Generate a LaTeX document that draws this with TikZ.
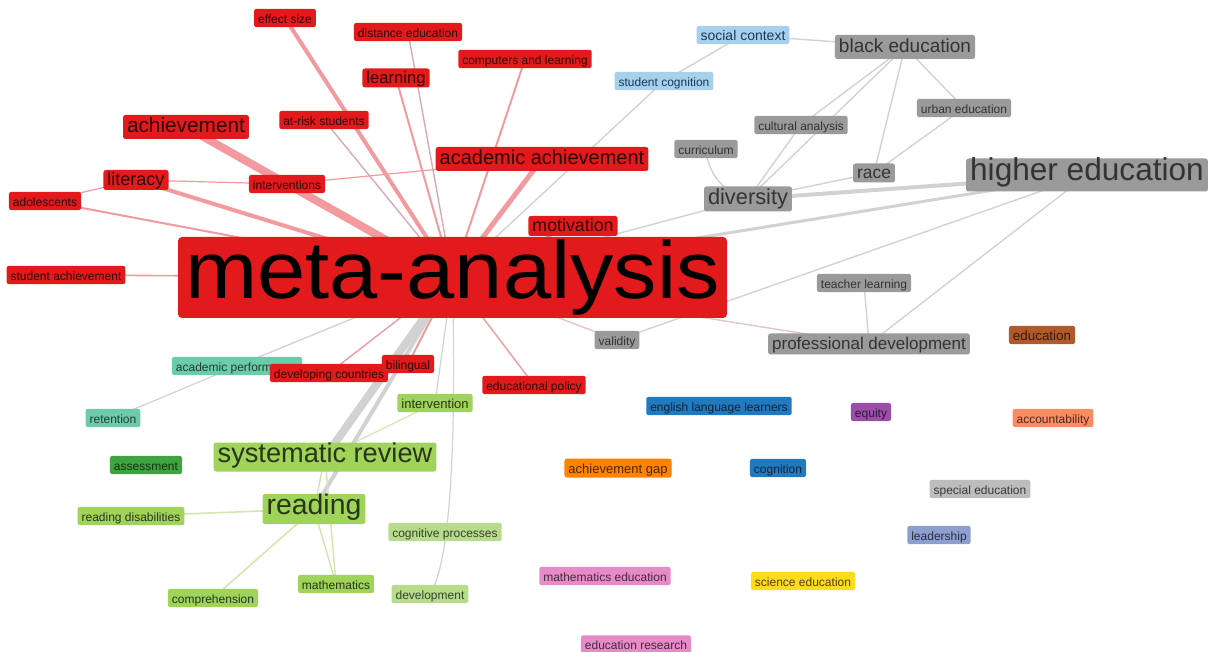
\documentclass[tikz,border=0pt]{standalone}
\usepackage{fontspec}
\setmainfont{Liberation Sans}
\usetikzlibrary{backgrounds}
\definecolor{cRed}{HTML}{E31A1C}
\definecolor{cGreen}{HTML}{9FD35A}
\definecolor{cLGreen}{HTML}{B6DC8C}
\definecolor{cDGreen}{HTML}{3FA33F}
\definecolor{cGray}{HTML}{9A9A9A}
\definecolor{cLGray}{HTML}{BDBDBD}
\definecolor{cLBlue}{HTML}{A9D0EA}
\definecolor{cBlue}{HTML}{2179BE}
\definecolor{cTeal}{HTML}{6CCBA8}
\definecolor{cOrange}{HTML}{FF8200}
\definecolor{cBrown}{HTML}{B0592A}
\definecolor{cSalmon}{HTML}{FB8B62}
\definecolor{cPurple}{HTML}{9A4EAA}
\definecolor{cPeri}{HTML}{8D9FD0}
\definecolor{cYellow}{HTML}{FFDB20}
\definecolor{cPink}{HTML}{E78BC8}
\definecolor{eRed}{HTML}{F29A9E}
\definecolor{eMauve}{HTML}{D9A9B4}
\definecolor{eGray}{HTML}{D2D2D2}
\definecolor{ePink}{HTML}{DFC6CE}
\definecolor{eGreen}{HTML}{D2E6B0}
\tikzset{
  kw/.style={rounded corners=1.2pt, inner xsep=2pt, inner ysep=0pt, minimum height=8pt,
    text height=0.72em, text depth=0.2em, font=\fontsize{6}{7}\selectfont},
  fs/.style={font=\fontsize{#1}{#1}\selectfont},
  ht/.style={minimum height=#1},
  kc/.style={kw, fill=#1, text=#1!30!black},
  rn/.style={kw, fill=cRed, text=cRed!20!black},
  gn/.style={kw, fill=cGreen, text=cGreen!25!black},
  lgn/.style={kw, fill=cLGreen, text=cLGreen!30!black},
  gyn/.style={kw, fill=cGray, text=black!80},
  lbn/.style={kw, fill=cLBlue, text=cBlue!50!black},
  tn/.style={kw, fill=cTeal, text=cTeal!30!black},
  metabox/.style={fill=cRed, text=black, rounded corners=2pt, inner sep=0pt,
    minimum width=274.5pt, minimum height=40.5pt, font=\fontsize{40.5}{40.5}\selectfont},
  redge/.style={draw=eRed, line width=#1},
  medge/.style={draw=eMauve, line width=#1},
  gedge/.style={draw=eGray, line width=#1},
  pedge/.style={draw=ePink, line width=#1},
  grnedge/.style={draw=eGreen, line width=#1},
}
\begin{document}
\begin{tikzpicture}[x=0.5pt,y=-0.5pt]
\useasboundingbox (0,0) rectangle (1211,652);
% red cluster
\node[rn] (effect) at (285,18) {effect size};
\node[rn] (distance) at (408,32) {distance education};
\node[rn] (computers) at (525,59) {computers and learning};
\node[rn, fs=8.3, ht=9.5pt] (learning) at (396,78) {learning};
\node[rn] (atrisk) at (324,120) {at-risk students};
\node[rn, fs=10.4, ht=12pt] (achievement) at (186,127) {achievement};
\node[rn, fs=10, ht=12pt] (acadach) at (542,159) {academic achievement};
\node[rn, fs=9, ht=10pt] (literacy) at (136,180) {literacy};
\node[rn] (interventions) at (287,184) {interventions};
\node[rn] (adolescents) at (45,201) {adolescents};
\node[rn, fs=8.9, ht=10pt] (motivation) at (573,226) {motivation};
\node[metabox] (meta) at (452.5,277.5) {\scalebox{1.07}[1]{meta-analysis}};
\node[rn] (studach) at (66,275) {student achievement};
\node[tn] (acadperf) at (237,366) {academic performance};
\node[tn] (retention) at (113,418) {retention};
\node[rn] (developing) at (329,373) {developing countries};
\node[rn] (bilingual) at (408,364) {bilingual};
\node[rn] (edpolicy) at (534,385) {educational policy};
% green cluster
\node[gn, fs=6.5] (intervention) at (435,403) {intervention};
\node[gn, fs=13.6, ht=14.5pt] (sysrev) at (325,457) {systematic review};
\node[kw, fill=cDGreen, text=cDGreen!30!black] (assessment) at (146,465) {assessment};
\node[gn, fs=14.2, ht=15pt] (reading) at (314,509) {reading};
\node[gn] (readdis) at (131,516) {reading disabilities};
\node[lgn] (cogproc) at (445,532) {cognitive processes};
\node[gn] (mathematics) at (336,584) {mathematics};
\node[gn] (comprehension) at (213,598) {comprehension};
\node[lgn] (development) at (430,594) {development};
% gray cluster
\node[lbn, fs=7] (social) at (743,35) {social context};
\node[lbn] (studcog) at (664,81) {student cognition};
\node[gyn, fs=9.5, ht=12pt] (blacked) at (905,47) {black education};
\node[gyn] (cultural) at (801,125) {cultural analysis};
\node[gyn] (urban) at (964,108) {urban education};
\node[gyn] (curriculum) at (706,149) {curriculum};
\node[gyn, fs=8.7, ht=9.5pt] (race) at (874,173) {race};
\node[gyn, fs=10.9, ht=12.5pt] (diversity) at (748,199) {diversity};
\node[gyn, fs=15.8, ht=16.5pt] (higher) at (1087,175) {higher education};
\node[gyn] (teacher) at (864,283) {teacher learning};
\node[gyn] (validity) at (617,340) {validity};
\node[gyn, fs=8.5, ht=10.5pt] (profdev) at (869,344) {professional development};
% isolated
\node[kc=cBrown, fs=6.7] (education) at (1042,335) {education};
\node[kc=cSalmon] (accountability) at (1053,418) {accountability};
\node[kc=cBlue] (ell) at (719,406) {english language learners};
\node[kc=cPurple] (equity) at (871,412) {equity};
\node[kc=cOrange, fs=6.5, ht=9.5pt] (achgap) at (618,468) {achievement gap};
\node[kc=cBlue] (cognition) at (778,468) {cognition};
\node[kc=cLGray] (special) at (980,489) {special education};
\node[kc=cPeri] (leadership) at (939,535) {leadership};
\node[kc=cPink] (matheduc) at (605,576) {mathematics education};
\node[kc=cYellow] (sciedu) at (803,581) {science education};
\node[kc=cPink] (edresearch) at (636,644.5) {education research};

\begin{pgfonlayer}{background}
% red edges
\draw[redge=2pt] (meta.center) -- (effect.center);
\draw[medge=0.7pt] (meta.center) -- (distance.center);
\draw[redge=1pt] (meta.center) -- (learning.center);
\draw[redge=1pt] (meta.center) -- (computers.center);
\draw[medge=0.7pt] (meta.center) -- (atrisk.center);
\draw[redge=2.5pt] (meta.center) -- (acadach.center);
\draw[redge=4pt] (meta.center) -- (achievement.center);
\draw[redge=2pt] (meta.center) -- (literacy.center);
\draw[redge=1.2pt] (meta.center) -- (interventions.center);
\draw[redge=1pt] (meta.center) -- (adolescents.center);
\draw[redge=0.6pt] (adolescents.center) -- (literacy.center);
\draw[redge=0.6pt] (literacy.center) -- (interventions.center);
\draw[redge=0.6pt] (interventions.center) -- (acadach.center);
\draw[redge=0.8pt] (meta.center) -- (studach.center);
\draw[redge=1pt] (meta.center) -- (motivation.center);
\draw[redge=0.7pt] (meta.center) -- (developing.center);
\draw[redge=1pt] (meta.center) -- (bilingual.center);
\draw[redge=0.7pt] (meta.center) -- (edpolicy.center);
% gray edges
\draw[gedge=4pt] (meta.center) -- (sysrev.center);
\draw[gedge=2pt] (meta.center) -- (reading.center);
\draw[gedge=0.6pt] (meta.center) -- (intervention.center);
\draw[gedge=0.6pt] (meta.center) .. controls (456,430) and (452,560) .. (development.center);
\draw[gedge=0.7pt] (meta.center) -- (acadperf.center);
\draw[gedge=0.6pt] (acadperf.center) -- (retention.center);
\draw[gedge=0.7pt] (meta.center) -- (studcog.center);
\draw[gedge=0.7pt] (studcog.center) -- (social.center);
\draw[gedge=0.7pt] (social.center) -- (blacked.center);
\draw[gedge=0.7pt] (meta.center) -- (diversity.center);
\draw[gedge=1.5pt] (meta.center) -- (higher.center);
\draw[pedge=0.7pt] (meta.center) -- (profdev.center);
\draw[pedge=0.7pt] (meta.center) -- (validity.center);
\draw[gedge=0.7pt] (validity.center) -- (higher.center);
\draw[gedge=0.7pt] (higher.center) -- (profdev.center);
\draw[gedge=0.7pt] (teacher.center) -- (profdev.center);
\draw[gedge=2pt] (diversity.center) -- (higher.center);
\draw[gedge=0.7pt] (diversity.center) -- (race.center);
\draw[gedge=0.7pt] (race.center) -- (blacked.center);
\draw[gedge=0.7pt] (race.center) -- (urban.center);
\draw[gedge=0.7pt] (urban.center) -- (blacked.center);
\draw[gedge=0.7pt] (blacked.center) -- (diversity.center);
\draw[gedge=0.7pt] (blacked.center) -- (cultural.center);
\draw[gedge=0.7pt] (cultural.center) -- (diversity.center);
\draw[gedge=0.7pt] (curriculum.center) to[bend right=35] (diversity.center);
% green edges
\draw[grnedge=0.8pt] (reading.center) -- (readdis.center);
\draw[grnedge=0.8pt] (reading.center) -- (comprehension.center);
\draw[grnedge=0.7pt] (reading.center) -- (mathematics.center);
\draw[grnedge=0.7pt] (sysrev.center) -- (mathematics.center);
\draw[grnedge=0.6pt] (intervention.center) -- (sysrev.center);
\draw[grnedge=0.7pt] (reading.center) -- (sysrev.center);
\end{pgfonlayer}
\end{tikzpicture}
\end{document}
